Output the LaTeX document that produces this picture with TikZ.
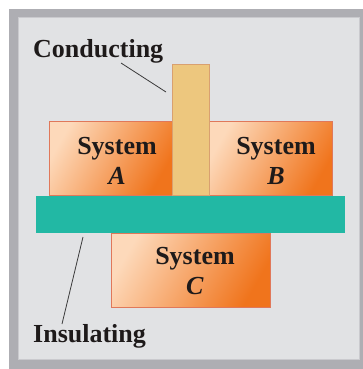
\documentclass[tikz,border=0pt]{standalone}
\usepackage{fontspec}
\setmainfont{Liberation Serif}
\begin{document}
\begin{tikzpicture}[x=1pt,y=-1pt,
  frameout/.style={fill=outergray,draw=none},
  framein/.style={fill=panelgray,draw=innerline,line width=0.6pt},
  sysbox/.style={draw=sysedge,line width=0.6pt,left color=syslight,right color=sysdark,shading angle=60},
  condbar/.style={fill=condfill,draw=condedge,line width=0.6pt},
  insplate/.style={fill=insfill,draw=none},
  lbl/.style={font=\fontsize{26}{30}\selectfont\bfseries,text=txt,inner sep=0pt,align=center},
  leader/.style={draw=leadcol,line width=0.8pt}]
\definecolor{outergray}{HTML}{AEAEB3}
\definecolor{panelgray}{HTML}{E1E2E4}
\definecolor{innerline}{HTML}{CACACE}
\definecolor{syslight}{HTML}{FDD9BA}
\definecolor{sysdark}{HTML}{F0741C}
\definecolor{sysedge}{HTML}{E0785A}
\definecolor{condfill}{HTML}{EDC77E}
\definecolor{condedge}{HTML}{D9A070}
\definecolor{insfill}{HTML}{22B8A4}
\definecolor{txt}{HTML}{1E1A1A}
\definecolor{leadcol}{HTML}{3A3A3A}
\useasboundingbox (0,0) rectangle (363,369);
\fill[white] (0,0) rectangle (363,369);
\path[frameout] (9,9) rectangle (363,369);
\path[framein] (18,17) rectangle (359,359);
% systems A and B
\path[sysbox] (49,121) rectangle (172,195);
\path[sysbox] (209,121) rectangle (332,195);
% conducting bar
\node[condbar,minimum width=37,minimum height=131,inner sep=0pt] (bar) at (190.5,129.5) {};
% insulating plate
\node[insplate,minimum width=309,minimum height=37,inner sep=0pt] (plate) at (190.5,214.5) {};
% system C
\path[sysbox] (111,233) rectangle (270,307);
% labels
\node[lbl] (sysA) at (117,161) {System\\\textit{A}};
\node[lbl] (sysB) at (276,161) {System\\\textit{B}};
\node[lbl] (sysC) at (195,271) {System\\\textit{C}};
\node[lbl,anchor=base west] (cond) at (33,57) {Conducting};
\node[lbl,anchor=base west] (ins) at (33,342) {Insulating};
% leaders
\coordinate (condend) at (166,92);
\coordinate (condstart) at (121,63);
\coordinate (insstart) at (83,237);
\coordinate (insend) at (62,324);
\draw[leader] (condstart) -- (condend);
\draw[leader] (insstart) -- (insend);
\end{tikzpicture}
\end{document}
